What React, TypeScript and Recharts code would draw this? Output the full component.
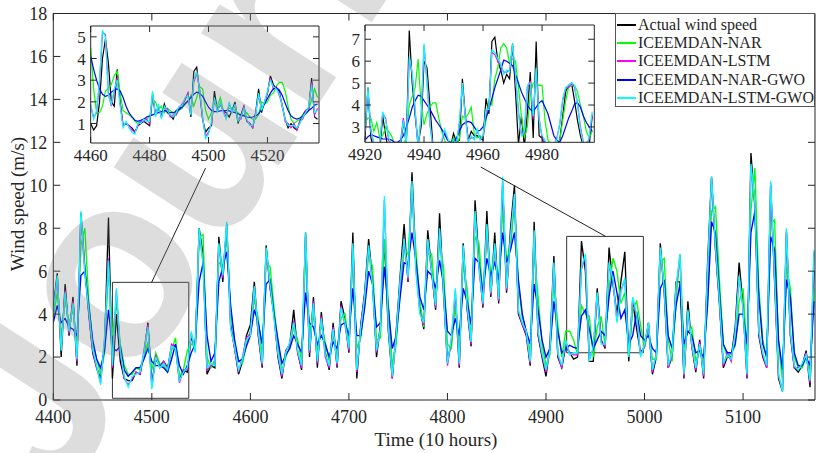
import React from 'react';
import { LineChart, Line, XAxis, YAxis, ReferenceArea, ReferenceLine } from 'recharts';

// main view: one value every 4 hours, 4400 .. 5172
const mainStart = 4400;
const mainStep = 4;

const actualMain = [
  4.3, 5.9, 2.0, 5.4, 3.0, 4.8, 1.6, 8.7, 6.2, 4.0,
  2.2, 1.5, 1.0, 2.5, 8.5, 1.0, 4.0, 1.8, 1.0, 0.9,
  0.9, 1.3, 1.2, 2.1, 3.6, 0.8, 1.9, 1.6, 1.8, 1.5,
  2.4, 2.5, 1.0, 1.4, 1.3, 3.0, 2.3, 8.0, 6.8, 1.2,
  1.6, 1.5, 7.6, 5.5, 8.2, 3.5, 2.4, 1.2, 1.8, 3.0,
  3.5, 5.5, 3.0, 1.5, 7.2, 5.2, 4.0, 2.0, 1.0, 2.3,
  2.6, 4.2, 2.2, 1.4, 7.8, 2.0, 4.8, 1.5, 4.1, 2.2,
  1.4, 3.6, 1.5, 4.6, 3.8, 2.2, 7.8, 1.0, 3.5, 5.0,
  7.5, 5.5, 2.0, 3.5, 7.5, 3.2, 1.0, 3.2, 5.8, 8.2,
  5.5, 10.6, 6.3, 4.3, 3.3, 7.9, 6.0, 4.2, 8.7, 5.0,
  1.8, 2.7, 4.8, 1.5, 7.3, 4.2, 2.5, 9.3, 6.4, 4.3,
  8.8, 4.8, 7.8, 4.5, 10.0, 5.0, 8.0, 10.0, 4.0, 3.5,
  3.0, 1.6, 8.3, 3.0, 2.0, 1.1, 2.5, 6.7, 2.0, 1.5,
  2.5, 2.2, 1.9, 2.0, 7.4, 6.0, 1.8, 1.8, 5.2, 2.8,
  2.4, 7.1, 5.4, 4.0, 5.5, 6.9, 1.8, 4.6, 3.3, 2.2,
  2.5, 3.6, 1.2, 2.0, 7.3, 5.0, 1.5, 2.0, 5.5, 5.5,
  1.0, 4.6, 2.5, 1.3, 2.8, 1.0, 6.4, 10.4, 7.0, 4.5,
  1.5, 2.0, 2.0, 3.4, 6.4, 4.4, 1.0, 11.5, 9.0, 3.0,
  2.0, 1.5, 10.0, 5.5, 1.0, 0.4, 7.8, 3.0, 1.5, 1.3,
  1.6, 2.3, 0.6, 6.0,
];

const narMain = [
  3.8, 5.0, 3.0, 4.6, 3.6, 4.2, 2.5, 7.2, 8.0, 4.6,
  2.6, 1.9, 1.2, 2.2, 6.2, 3.0, 4.5, 2.6, 1.6, 1.2,
  1.2, 1.5, 1.4, 2.0, 2.7, 1.4, 2.2, 1.7, 1.6, 1.3,
  2.3, 2.9, 1.1, 1.4, 2.3, 2.6, 2.5, 7.6, 7.7, 2.0,
  1.5, 1.9, 6.4, 6.3, 7.5, 4.2, 2.7, 1.8, 1.7, 2.6,
  3.2, 4.7, 3.8, 2.0, 6.4, 6.2, 4.3, 2.6, 1.3, 2.0,
  2.5, 3.4, 2.8, 1.8, 6.8, 3.2, 3.9, 2.3, 3.5, 2.7,
  1.8, 3.0, 2.2, 3.8, 4.0, 2.6, 6.6, 2.4, 2.9, 4.5,
  6.8, 6.2, 2.8, 2.9, 7.5, 4.5, 1.6, 2.6, 5.2, 7.0,
  6.8, 9.5, 7.0, 4.6, 3.4, 6.8, 6.8, 4.5, 7.4, 6.2,
  2.6, 2.4, 4.5, 2.6, 6.3, 5.2, 2.8, 7.6, 7.3, 4.8,
  7.6, 5.9, 6.8, 5.5, 8.8, 6.6, 7.0, 9.2, 5.4, 3.8,
  3.2, 2.2, 6.9, 4.8, 2.6, 1.6, 2.1, 5.6, 3.5, 2.0,
  3.2, 3.2, 2.8, 2.1, 4.4, 4.0, 3.9, 2.0, 3.4, 3.9,
  2.5, 5.2, 6.6, 6.0, 4.5, 5.0, 2.0, 4.2, 4.6, 3.5,
  2.4, 3.3, 1.9, 1.9, 6.4, 6.6, 2.8, 1.8, 4.6, 6.8,
  2.4, 3.2, 3.4, 1.8, 2.3, 1.8, 4.8, 8.8, 9.0, 5.6,
  2.6, 2.0, 2.2, 2.5, 4.6, 5.2, 2.2, 8.8, 10.8, 5.2,
  2.8, 1.9, 8.2, 8.4, 2.6, 0.9, 6.2, 5.2, 2.0, 1.5,
  1.5, 2.0, 1.4, 5.2,
];

const lstmMain = [
  4.1, 5.7, 2.4, 5.1, 3.1, 4.6, 1.8, 8.6, 6.0, 4.1,
  2.3, 1.5, 0.8, 2.8, 6.6, 1.5, 5.1, 2.2, 1.0, 0.7,
  1.0, 1.3, 1.2, 2.3, 3.5, 0.6, 2.1, 1.5, 1.8, 1.4,
  2.6, 2.5, 0.8, 1.4, 1.4, 3.1, 2.3, 7.8, 6.4, 1.4,
  1.6, 1.7, 7.2, 5.7, 8.1, 3.4, 2.4, 1.3, 2.0, 2.9,
  3.1, 5.2, 3.1, 1.6, 7.0, 5.3, 3.9, 2.1, 1.1, 2.3,
  2.6, 3.7, 2.2, 1.5, 7.6, 2.2, 4.6, 1.7, 3.9, 2.0,
  1.5, 3.4, 1.6, 4.4, 3.5, 2.3, 7.2, 1.3, 3.4, 4.9,
  7.1, 5.4, 2.2, 3.4, 9.3, 3.5, 1.0, 3.1, 5.5, 7.4,
  5.6, 10.0, 6.1, 4.1, 3.5, 7.4, 5.9, 4.3, 7.9, 5.1,
  1.6, 2.8, 5.1, 1.6, 7.1, 4.3, 2.6, 8.7, 6.1, 4.4,
  8.1, 4.9, 7.2, 4.6, 10.2, 5.1, 7.5, 9.5, 4.1, 3.5,
  3.1, 1.7, 7.8, 3.1, 2.1, 1.3, 2.4, 6.3, 2.1, 1.5,
  2.7, 2.2, 2.1, 2.1, 6.1, 6.7, 1.9, 2.4, 4.9, 2.7,
  2.5, 6.3, 5.5, 3.7, 5.1, 5.6, 2.1, 4.7, 3.9, 2.1,
  2.5, 3.5, 1.3, 2.2, 7.0, 5.1, 1.5, 2.1, 5.2, 6.7,
  1.1, 4.1, 2.5, 1.4, 2.7, 1.1, 5.9, 10.3, 7.1, 4.6,
  1.6, 2.2, 1.8, 3.2, 5.7, 4.3, 1.1, 10.9, 9.1, 3.1,
  2.1, 1.5, 10.1, 5.7, 1.1, 0.5, 7.9, 3.1, 1.5, 1.5,
  1.6, 2.2, 0.8, 6.9,
];

const narGwoMain = [
  3.6, 4.4, 3.6, 3.8, 3.4, 3.3, 3.0, 5.8, 6.0, 4.4,
  2.8, 1.9, 1.5, 2.3, 4.2, 2.4, 2.3, 2.5, 1.4, 1.1,
  1.3, 1.5, 1.5, 1.9, 2.4, 1.8, 1.6, 1.6, 1.5, 1.3,
  1.9, 2.6, 1.6, 1.2, 1.6, 2.2, 2.6, 5.5, 6.4, 3.0,
  1.8, 2.2, 5.5, 6.2, 6.9, 4.4, 2.8, 1.8, 1.9, 2.5,
  3.0, 4.2, 3.6, 2.6, 5.4, 5.6, 4.0, 2.8, 1.7, 2.1,
  2.4, 3.0, 2.6, 2.2, 5.0, 3.6, 3.4, 2.6, 3.0, 2.6,
  2.0, 2.7, 2.4, 3.5, 3.6, 3.0, 5.2, 3.0, 3.0, 4.3,
  6.0, 5.4, 3.4, 3.6, 6.2, 4.3, 2.4, 3.0, 4.8, 6.4,
  6.3, 7.8, 6.5, 4.8, 4.2, 6.0, 5.8, 5.2, 6.5, 5.4,
  3.2, 3.0, 3.8, 3.0, 5.2, 4.6, 3.5, 6.6, 6.4, 5.0,
  6.6, 5.8, 6.4, 5.6, 7.8, 6.4, 7.0, 7.8, 5.6, 4.0,
  3.2, 2.6, 5.4, 4.2, 2.8, 2.0, 2.4, 4.6, 3.2, 2.2,
  2.4, 2.55, 2.45, 2.4, 3.9, 4.2, 3.3, 2.4, 2.8, 3.2,
  3.0, 4.8, 6.0, 5.0, 3.8, 4.2, 2.6, 3.0, 4.1, 3.0,
  2.8, 3.0, 2.4, 2.2, 5.2, 5.6, 3.0, 2.4, 4.4, 5.4,
  2.6, 3.2, 3.0, 2.2, 2.3, 2.0, 4.4, 8.3, 7.8, 5.0,
  2.6, 2.2, 2.2, 2.6, 4.0, 4.0, 2.6, 7.8, 8.8, 4.8,
  2.6, 2.0, 7.6, 7.0, 2.8, 1.4, 5.6, 4.8, 2.2, 1.6,
  1.6, 2.0, 1.6, 4.6,
];

const lstmGwoMain = [
  4.0, 5.8, 2.3, 5.0, 3.2, 4.5, 1.9, 8.8, 5.9, 4.2,
  2.4, 1.6, 0.7, 2.9, 6.5, 1.6, 5.2, 2.3, 1.1, 0.6,
  1.1, 1.2, 1.3, 2.2, 3.4, 0.5, 2.0, 1.5, 1.7, 1.4,
  2.5, 2.4, 0.9, 1.3, 1.5, 3.2, 2.2, 8.0, 6.3, 1.5,
  1.7, 1.6, 7.3, 5.8, 8.3, 3.3, 2.5, 1.4, 1.9, 2.8,
  3.0, 5.3, 3.2, 1.7, 7.1, 5.4, 3.8, 2.2, 1.2, 2.2,
  2.7, 3.6, 2.3, 1.6, 7.8, 2.3, 4.5, 1.8, 3.8, 2.1,
  1.6, 3.3, 1.7, 4.3, 3.6, 2.4, 7.3, 1.4, 3.3, 4.8,
  7.2, 5.3, 2.3, 3.3, 9.5, 3.4, 1.1, 3.0, 5.6, 7.5,
  5.7, 10.2, 6.0, 4.0, 3.6, 7.5, 6.0, 4.4, 8.0, 5.2,
  1.7, 2.9, 5.2, 1.7, 7.2, 4.4, 2.7, 8.8, 6.2, 4.5,
  8.2, 5.0, 7.3, 4.7, 10.4, 5.2, 7.6, 9.6, 4.2, 3.6,
  3.2, 1.8, 7.9, 3.2, 2.2, 1.4, 2.3, 6.4, 2.2, 1.6,
  2.8, 2.1, 2.2, 2.2, 6.2, 6.8, 1.8, 2.5, 5.0, 2.6,
  2.6, 6.4, 5.6, 3.6, 5.0, 5.7, 2.0, 4.8, 4.0, 2.0,
  2.6, 3.6, 1.4, 2.1, 7.1, 5.2, 1.6, 2.2, 5.3, 6.8,
  1.2, 4.2, 2.6, 1.5, 2.6, 1.2, 6.0, 10.4, 7.2, 4.7,
  1.7, 2.1, 1.9, 3.1, 5.8, 4.2, 1.2, 11.0, 9.2, 3.2,
  2.2, 1.6, 10.2, 5.8, 1.2, 0.4, 8.0, 3.2, 1.6, 1.4,
  1.7, 2.1, 0.9, 7.0,
];

// zoom 1: hourly, 4460 .. 4537
const zoomAStart = 4460;
const actualA = [
  1.0, 0.7, 0.9, 2.0, 4.0, 4.9, 3.8, 2.0, 1.8, 3.5,
  2.0, 0.9, 1.0, 0.9, 0.8, 0.6, 0.9, 1.0, 1.1, 1.0,
  0.9, 2.3, 1.4, 1.8, 1.3, 1.9, 1.5, 1.4, 1.2, 1.6,
  1.7, 1.8, 2.1, 2.4, 1.3, 3.4, 3.6, 2.4, 1.2, 0.6,
  0.8, 0.9, 2.5, 1.6, 1.9, 1.6, 1.5, 1.3, 1.6, 2.0,
  1.0, 1.4, 1.8, 1.1, 1.0, 0.8, 1.5, 2.6, 1.5, 2.0,
  2.4, 3.2, 2.8, 2.6, 2.5, 1.8, 1.2, 0.8, 1.0, 0.8,
  0.7, 1.1, 1.4, 1.6, 1.7, 3.1, 1.3, 1.2,
];
const narA = [
  4.5, 2.6, 1.5, 1.5, 1.8, 2.5, 2.6, 2.8, 3.2, 3.4,
  2.4, 1.6, 1.5, 1.4, 1.3, 1.1, 1.0, 1.1, 1.2, 1.2,
  1.3, 2.1, 2.0, 1.6, 1.8, 1.5, 1.7, 1.6, 1.5, 1.4,
  1.6, 1.7, 1.9, 2.0, 2.3, 1.8, 2.2, 2.7, 2.6, 1.6,
  1.2, 1.5, 2.0, 1.8, 2.2, 1.6, 1.6, 1.7, 1.7, 1.6,
  1.5, 1.3, 1.4, 1.5, 1.3, 1.2, 1.2, 1.4, 2.0, 1.9,
  2.0, 2.3, 2.4, 2.7, 2.9, 2.9, 2.5, 1.8, 1.2, 1.0,
  1.1, 1.2, 1.4, 1.5, 1.6, 2.1, 2.6, 2.2,
];
const lstmA = [
  1.8, 1.3, 1.5, 2.9, 5.2, 5.1, 2.4, 1.8, 2.5, 3.1,
  1.9, 0.9, 1.0, 0.9, 0.7, 0.6, 0.9, 1.1, 1.1, 1.2,
  1.0, 2.4, 1.4, 1.8, 1.3, 1.7, 1.7, 1.3, 1.4, 1.4,
  1.7, 1.9, 2.1, 2.4, 1.5, 2.9, 3.3, 2.6, 1.2, 0.4,
  0.6, 1.0, 2.1, 1.6, 1.9, 1.6, 1.3, 1.9, 1.6, 1.8,
  1.2, 1.2, 1.8, 1.1, 1.0, 0.8, 1.5, 2.3, 1.7, 1.9,
  2.4, 3.1, 2.6, 2.7, 2.3, 1.9, 1.1, 1.0, 0.8, 1.0,
  0.7, 1.1, 1.2, 1.6, 1.7, 2.9, 1.4, 1.7,
];
const narGwoA = [
  4.1, 3.5, 3.0, 2.6, 2.35, 2.25, 2.3, 2.45, 2.55, 2.6,
  2.5, 2.2, 1.8, 1.5, 1.3, 1.15, 1.1, 1.15, 1.2, 1.3,
  1.35, 1.4, 1.45, 1.5, 1.55, 1.6, 1.55, 1.5, 1.5, 1.55,
  1.65, 1.75, 1.9, 2.05, 2.2, 2.35, 2.45, 2.4, 2.25, 2.0,
  1.75, 1.6, 1.55, 1.55, 1.58, 1.6, 1.6, 1.58, 1.55, 1.5,
  1.45, 1.4, 1.35, 1.3, 1.28, 1.3, 1.35, 1.45, 1.65, 1.9,
  2.15, 2.4, 2.6, 2.65, 2.55, 2.3, 1.95, 1.6, 1.35, 1.25,
  1.2, 1.25, 1.35, 1.45, 1.6, 1.7, 1.85, 1.9,
];
const lstmGwoA = [
  1.9, 1.2, 1.6, 3.0, 5.3, 5.0, 2.3, 1.9, 2.6, 3.0,
  1.8, 0.8, 1.1, 0.8, 0.6, 0.5, 1.0, 1.0, 1.2, 1.1,
  1.1, 2.5, 1.3, 1.9, 1.2, 1.8, 1.6, 1.4, 1.3, 1.5,
  1.8, 1.8, 2.2, 2.3, 1.4, 3.0, 3.4, 2.5, 1.3, 0.3,
  0.5, 1.1, 2.2, 1.5, 2.0, 1.5, 1.2, 2.0, 1.5, 1.9,
  1.1, 1.3, 1.7, 1.2, 0.9, 0.9, 1.4, 2.4, 1.6, 2.0,
  2.5, 3.0, 2.7, 2.6, 2.4, 1.8, 1.2, 0.9, 0.9, 0.9,
  0.8, 1.0, 1.3, 1.5, 1.8, 2.8, 1.5, 1.6,
];

// zoom 2: hourly, 4920 .. 4997
const zoomBStart = 4920;
const actualB = [
  2.5, 4.8, 2.5, 2.0, 2.2, 1.9, 3.5, 2.6, 1.9, 2.0,
  1.7, 1.8, 2.0, 3.3, 2.2, 7.4, 5.0, 3.5, 2.2, 3.0,
  6.0, 5.7, 4.0, 2.2, 1.8, 1.9, 2.1, 2.2, 1.8, 2.1,
  2.7, 2.3, 2.4, 5.2, 3.5, 2.4, 2.8, 2.6, 2.6, 2.5,
  2.4, 4.3, 3.6, 6.9, 7.1, 6.0, 5.6, 5.0, 5.4, 5.2,
  6.8, 4.6, 2.2, 3.5, 2.1, 3.6, 5.5, 2.5, 6.9, 2.6,
  2.5, 2.0, 1.9, 2.1, 1.8, 2.0, 2.4, 3.5, 4.6, 4.9,
  5.0, 4.2, 3.3, 2.6, 2.1, 2.3, 2.2, 3.5,
];
const narB = [
  3.2, 3.4, 3.4, 2.8, 3.2, 2.5, 2.6, 3.0, 2.8, 2.6,
  2.2, 2.1, 2.0, 2.2, 2.5, 4.0, 4.4, 4.8, 6.1, 4.0,
  3.1, 3.6, 3.9, 4.1, 4.1, 3.4, 2.8, 2.4, 2.0, 2.2,
  2.5, 2.1, 2.5, 3.5, 3.4, 3.6, 3.9, 2.7, 2.5, 2.6,
  2.5, 3.3, 4.2, 4.0, 5.2, 5.7, 6.6, 6.8, 6.6, 5.9,
  6.1, 6.0, 4.8, 3.5, 2.5, 3.0, 4.5, 5.0, 5.0, 4.9,
  4.9, 3.3, 2.4, 2.2, 2.0, 2.1, 2.4, 3.3, 4.2, 4.8,
  4.9, 4.9, 4.6, 4.0, 3.5, 2.8, 2.5, 2.8,
];
const lstmB = [
  2.7, 4.7, 2.9, 2.2, 2.2, 2.3, 3.6, 3.4, 2.4, 2.1,
  2.0, 1.9, 2.3, 3.4, 2.3, 6.1, 5.4, 3.7, 2.1, 3.4,
  6.7, 5.1, 3.1, 2.1, 1.9, 2.0, 2.3, 2.8, 2.4, 2.2,
  2.3, 2.2, 3.2, 4.9, 3.5, 2.4, 2.5, 2.5, 2.8, 2.5,
  2.5, 3.7, 3.9, 6.4, 6.3, 6.0, 5.8, 5.5, 5.5, 5.6,
  6.7, 5.3, 3.7, 2.7, 2.7, 4.8, 5.1, 3.4, 5.6, 3.4,
  2.5, 2.3, 2.1, 2.0, 2.1, 2.5, 3.1, 4.2, 4.8, 4.8,
  5.0, 4.8, 4.1, 3.0, 2.3, 2.1, 2.5, 3.6,
];
const narGwoB = [
  2.4, 2.55, 2.65, 2.6, 2.55, 2.5, 2.45, 2.45, 2.45, 2.4,
  2.3, 2.3, 2.4, 2.6, 3.0, 3.4, 3.9, 4.2, 4.45, 4.4,
  4.2, 4.0, 3.8, 3.55, 3.3, 3.1, 2.9, 2.65, 2.4, 2.3,
  2.3, 2.5, 2.8, 3.1, 3.2, 3.25, 3.2, 3.0, 2.8, 2.85,
  3.0, 3.4, 3.8, 4.3, 4.8, 5.2, 5.6, 6.05, 6.0, 5.9,
  5.8, 5.4, 5.0, 4.6, 4.3, 4.0, 3.8, 3.7, 3.9, 4.1,
  4.2, 3.9, 3.6, 3.1, 2.6, 2.4, 2.3, 2.6, 3.0, 3.4,
  3.7, 4.05, 4.1, 3.9, 3.5, 3.2, 3.0, 2.8,
];
const lstmGwoB = [
  2.8, 4.8, 2.8, 2.3, 2.1, 2.3, 3.7, 3.3, 2.5, 2.2,
  2.0, 1.8, 2.2, 3.3, 2.2, 6.2, 5.5, 3.8, 2.0, 3.5,
  6.8, 5.0, 3.2, 2.0, 1.8, 2.0, 2.4, 2.9, 2.5, 2.1,
  2.4, 2.2, 3.3, 5.0, 3.4, 2.3, 2.6, 2.4, 2.9, 2.4,
  2.6, 3.8, 3.8, 6.5, 6.4, 6.1, 5.9, 5.4, 5.6, 5.5,
  6.8, 5.4, 3.6, 2.6, 2.8, 4.9, 5.0, 3.5, 5.7, 3.3,
  2.6, 2.4, 2.0, 2.0, 2.2, 2.4, 3.2, 4.3, 4.8, 4.9,
  5.0, 4.9, 4.0, 2.9, 2.2, 2.0, 2.6, 3.7,
];

const mainXTicks = [4400, 4500, 4600, 4700, 4800, 4900, 5000, 5100];
const mainYTicks = [0, 2, 4, 6, 8, 10, 12, 14, 16, 18];

const seriesNames = ['Actual wind speed', 'ICEEMDAN-NAR', 'ICEEMDAN-LSTM', 'ICEEMDAN-NAR-GWO', 'ICEEMDAN-LSTM-GWO'];
const seriesKeys = ['actual', 'nar', 'lstm', 'narGwo', 'lstmGwo'];
const seriesColors = ['#000000', '#00ff00', '#ff00ff', '#0000ff', '#00ffff'];

function buildRows(start: number, step: number, cols: number[][]) {
  return cols[0].map((_, i) => {
    const row: any = { t: start + i * step };
    seriesKeys.forEach((k, j) => { row[k] = cols[j][i]; });
    return row;
  });
}

const mainData = buildRows(mainStart, mainStep, [actualMain, narMain, lstmMain, narGwoMain, lstmGwoMain]);
const zoomAData = buildRows(zoomAStart, 1, [actualA, narA, lstmA, narGwoA, lstmGwoA]);
const zoomBData = buildRows(zoomBStart, 1, [actualB, narB, lstmB, narGwoB, lstmGwoB]);

const serif = '"Liberation Serif", "Times New Roman", serif';
const ink = '#262626';
const W = 816;
const H = 453;
const layer: React.CSSProperties = { position: 'absolute', left: 0, top: 0 };

function seriesLines(width: number) {
  return seriesKeys.map((k, i) => (
    <Line
      key={k}
      type="linear"
      dataKey={k}
      stroke={seriesColors[i]}
      strokeWidth={width}
      dot={false}
      activeDot={false}
      isAnimationActive={false}
    />
  ));
}

function MainChart() {
  const tick = { fontFamily: serif, fontSize: 18, fill: ink };
  // plot box: x 53.3..815, y 13.5..400
  return (
    <LineChart width={W} height={H} data={mainData} margin={{ top: 12.5, right: 0, bottom: 23, left: 13.3 }}>
      <XAxis dataKey="t" type="number" domain={[4400, 5173]} ticks={mainXTicks} allowDataOverflow
        height={30} tickSize={-7} tickMargin={17} tick={tick} stroke={ink} interval={0} />
      <XAxis xAxisId="top" orientation="top" dataKey="t" type="number" domain={[4400, 5173]} ticks={mainXTicks}
        allowDataOverflow height={1} tickSize={-7} tickFormatter={() => ''} stroke={ink} interval={0} />
      <YAxis type="number" domain={[0, 18]} ticks={mainYTicks} allowDataOverflow width={40}
        tickSize={-7} tickMargin={13} tick={tick} stroke={ink} interval={0} />
      <YAxis yAxisId="right" orientation="right" type="number" domain={[0, 18]} ticks={mainYTicks} allowDataOverflow
        width={1} tickSize={-7} tickFormatter={() => ''} stroke={ink} interval={0} />
      {seriesLines(1.35)}
      <Line xAxisId="top" yAxisId="right" dataKey="actual" stroke="none" dot={false} activeDot={false} isAnimationActive={false} />
      <ReferenceArea x1={4460} x2={4537.5} y1={0.08} y2={5.48} fill="none" stroke="#333" strokeWidth={1} ifOverflow="visible" />
      <ReferenceArea x1={4921} x2={4998.8} y1={2.2} y2={7.62} fill="none" stroke="#333" strokeWidth={1} ifOverflow="visible" />
      <ReferenceLine segment={[{ x: 4499.8, y: 5.48 }, { x: 4554.5, y: 10.8 }]} stroke="#222" strokeWidth={1} ifOverflow="visible" />
      <ReferenceLine segment={[{ x: 4833.8, y: 10.85 }, { x: 4960.5, y: 7.62 }]} stroke="#222" strokeWidth={1} ifOverflow="visible" />
    </LineChart>
  );
}

interface InsetProps {
  data: any[];
  box: { left: number; right: number; top: number; bottom: number };
  xDomain: [number, number];
  yDomain: [number, number];
  xTicks: number[];
  yTicks: number[];
}

function Inset({ data, box, xDomain, yDomain, xTicks, yTicks }: InsetProps) {
  const tick = { fontFamily: serif, fontSize: 17, fill: ink };
  return (
    <LineChart width={W} height={H} data={data}
      margin={{ top: box.top - 1, left: box.left - 30, right: W - box.right - 1, bottom: H - box.bottom - 25 }}>
      <XAxis dataKey="t" type="number" domain={xDomain} ticks={xTicks} allowDataOverflow height={25}
        tickSize={-6} tickMargin={12} tick={tick} stroke={ink} interval={0} />
      <XAxis xAxisId="top" orientation="top" dataKey="t" type="number" domain={xDomain} ticks={xTicks}
        allowDataOverflow height={1} tickSize={-6} tickFormatter={() => ''} stroke={ink} interval={0} />
      <YAxis type="number" domain={yDomain} ticks={yTicks} allowDataOverflow width={30}
        tickSize={-6} tickMargin={11} tick={tick} stroke={ink} interval={0} />
      <YAxis yAxisId="right" orientation="right" type="number" domain={yDomain} ticks={yTicks} allowDataOverflow
        width={1} tickSize={-6} tickFormatter={() => ''} stroke={ink} interval={0} />
      {seriesLines(1.2)}
      <Line xAxisId="top" yAxisId="right" dataKey="actual" stroke="none" dot={false} activeDot={false} isAnimationActive={false} />
    </LineChart>
  );
}

function LegendBox() {
  return (
    <div style={{
      position: 'absolute', left: 615, top: 13, width: 200, height: 94, boxSizing: 'border-box',
      border: '1px solid #555', background: '#fff', fontFamily: serif, fontSize: 16, color: ink, paddingTop: 1.5,
    }}>
      {seriesNames.map((name, i) => (
        <div key={name} style={{ height: 18.4, display: 'flex', alignItems: 'center', whiteSpace: 'nowrap' }}>
          <span style={{ display: 'inline-block', width: 19, height: 0, borderTop: `2px solid ${seriesColors[i]}`, marginLeft: 1, marginRight: 2 }} />
          {name}
        </div>
      ))}
    </div>
  );
}

export default function App() {
  return (
    <div style={{ position: 'absolute', left: 0, top: 0, width: W, height: H, overflow: 'hidden', background: '#fff' }}>
      <div style={layer}><MainChart /></div>
      <div style={layer}>
        <Inset data={zoomAData} box={{ left: 90.7, right: 319, top: 26, bottom: 143 }}
          xDomain={[4460, 4537.5]} yDomain={[0.1, 5.5]} xTicks={[4460, 4480, 4500, 4520]} yTicks={[1, 2, 3, 4, 5]} />
      </div>
      <div style={layer}>
        <Inset data={zoomBData} box={{ left: 365, right: 594.3, top: 25, bottom: 142.3 }}
          xDomain={[4920, 4997.7]} yDomain={[2.3, 7.65]} xTicks={[4920, 4940, 4960, 4980]} yTicks={[3, 4, 5, 6, 7]} />
      </div>
      <LegendBox />
      <div style={{
        position: 'absolute', left: 18, top: 204, transform: 'translate(-50%, -50%) rotate(-90deg)',
        fontFamily: serif, fontSize: 19, color: ink, whiteSpace: 'nowrap',
      }}>Wind speed (m/s)</div>
      <div style={{
        position: 'absolute', left: 436, top: 440, transform: 'translate(-50%, -50%)',
        fontFamily: serif, fontSize: 19, color: ink, whiteSpace: 'nowrap',
      }}>Time (10 hours)</div>
      <svg width={W} height={H} style={{ ...layer, pointerEvents: 'none' }}>
        <text x={55} y={510} transform="rotate(-57 55 510)" fontFamily='"Liberation Sans", Arial, sans-serif'
          fontWeight="bold" fontSize={260} fill="#808080" fillOpacity={0.27}>Journal Pre-proof</text>
      </svg>
    </div>
  );
}
